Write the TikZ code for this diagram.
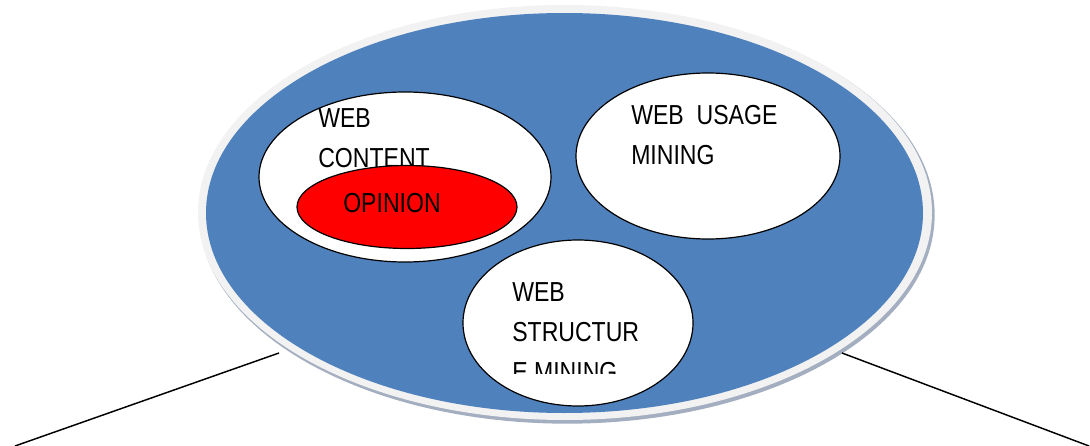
\documentclass[tikz,border=0pt]{standalone}
\usepackage{fontspec}
\setmainfont[FakeStretch=0.84]{Liberation Sans}
\usetikzlibrary{shapes.geometric}
\definecolor{mainblue}{HTML}{4F81BD}
\definecolor{rimgrey}{HTML}{F2F2F2}
\definecolor{shadowgrey}{HTML}{A3AEC0}
\tikzset{
disc/.style={shape=ellipse, inner sep=0pt},
field/.style={shape=ellipse, draw=black, line width=0.9pt, fill=white, inner sep=0pt},
label text/.style={anchor=north west, inner sep=0pt, align=left,
    font=\fontsize{20.6}{30}\selectfont}}

\begin{document}
\begin{tikzpicture}[x=0.75pt, y=-0.75pt]
            \useasboundingbox (0,0) rectangle (1090,446);

                % outer disc with its rim and shadow
                \node[disc, fill=shadowgrey, minimum width=551.5pt, minimum height=313pt] (S) at (567,215) {};
                \node[disc, fill=rimgrey, minimum width=550.5pt, minimum height=311.25pt] (R) at (565,212.5) {};
                \node[disc, fill=mainblue, minimum width=537.75pt, minimum height=300pt] (M) at (564.5,213) {};

                % the three fields
                \node[field, minimum width=219pt, minimum height=127.5pt] (C) at (405,177) {};
                \node[field, minimum width=198pt, minimum height=124.5pt] (U) at (708,156) {};
                \node[field, minimum width=172.5pt, minimum height=124.5pt] (T) at (578,323) {};

                \node[label text] (Ct) at (318,108) {WEB\\CONTENT};
                \node[field, fill=red, minimum width=165pt, minimum height=62.25pt] (O) at (407,207) {};
                \node[label text] (Ot) at (343,193) {OPINION};
                \node[label text] (Ut) at (631,105) {WEB~ USAGE\\MINING};
                \begin{scope}
                    \clip (500,270) rectangle (690,373);
                    \node[label text] (Tt) at (512,282) {WEB\\STRUCTUR\\E MINING};
                \end{scope}

                % leader lines
                \coordinate (L) at (15,446);
                \coordinate (Q) at (1089,446);
                \draw[line width=1.1pt] (279,353) -- (L);
                \draw[line width=1.1pt] (842,353) -- (Q);

            \end{tikzpicture}
\end{document}
